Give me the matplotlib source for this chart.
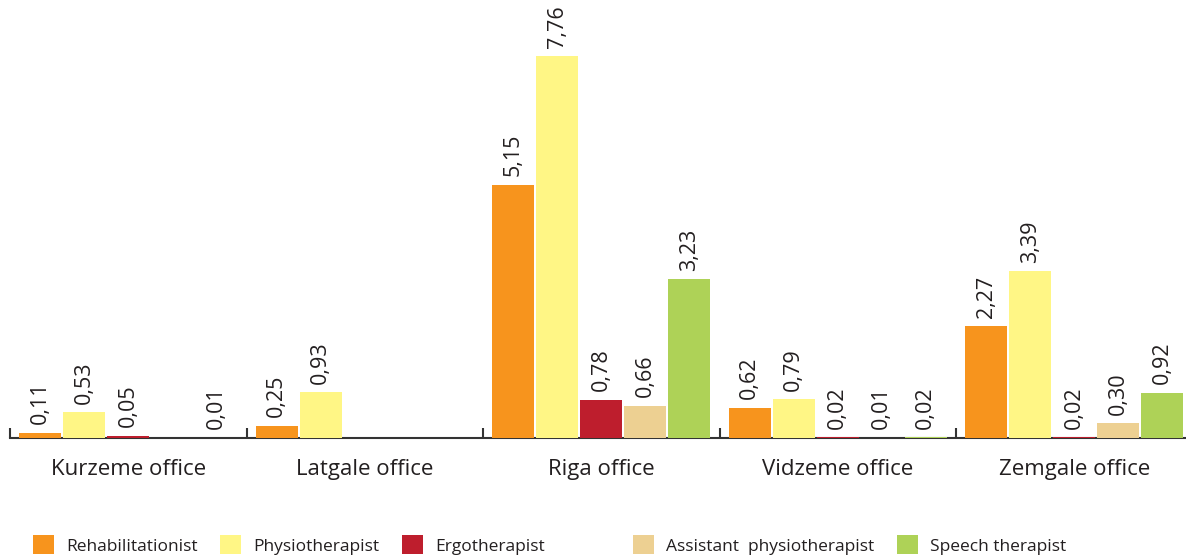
import numpy as np
import matplotlib.pyplot as plt

plt.rcParams['font.family'] = ['Open Sans', 'DejaVu Sans']

offices = ['Kurzeme office', 'Latgale office', 'Riga office', 'Vidzeme office', 'Zemgale office']
series = ['Rehabilitationist', 'Physiotherapist', 'Ergotherapist',
          'Assistant  physiotherapist', 'Speech therapist']
colors = ['#F7941D', '#FFF685', '#BE1E2D', '#EDD092', '#AED257']

# None = no bar in the source
rehab = [0.11, 0.25, 5.15, 0.62, 2.27]
physio = [0.53, 0.93, 7.76, 0.79, 3.39]
ergo = [0.05, None, 0.78, 0.02, 0.02]
assist = [None, None, 0.66, 0.01, 0.30]
speech = [0.01, None, 3.23, 0.02, 0.92]
labels = [
    ['0,11', '0,25', '5,15', '0,62', '2,27'],
    ['0,53', '0,93', '7,76', '0,79', '3,39'],
    ['0,05', None, '0,78', '0,02', '0,02'],
    [None, None, '0,66', '0,01', '0,30'],
    ['0,01', None, '3,23', '0,02', '0,92'],
]
data = [rehab, physio, ergo, assist, speech]

fig = plt.figure(figsize=(11.86, 5.6), dpi=100)
ax = fig.add_axes([10 / 1186, 122 / 560, 1176 / 1186, 438 / 560])

grp = 236.6
pad = 9 / grp
step = 44 / grp
width = 42 / grp
x0 = np.arange(len(offices))

handles = []
for k, (vals, col, lab) in enumerate(zip(data, colors, labels)):
    v = np.array([np.nan if a is None else a for a in vals])
    xs = x0 + pad + k * step
    h = ax.bar(xs, v, width=width, align='edge', color=col, label=series[k], zorder=2)
    handles.append(h)
    for xi, vi, li in zip(xs, v, lab):
        if li is None:
            continue
        ax.annotate(li, (xi + width / 2, vi), xytext=(0, 6), textcoords='offset points',
                    rotation=90, ha='center', va='bottom', fontsize=15.5, color='#231f20')

ax.set_xlim(0, 1176 / grp)
ax.set_ylim(0, 438 / 49.19)
for s in ['top', 'right', 'left']:
    ax.spines[s].set_visible(False)
ax.spines['bottom'].set_color('#333333')
ax.spines['bottom'].set_linewidth(1.5)
ax.spines['bottom'].set_zorder(1)
ax.set_yticks([])
ax.set_xticks(x0)
ax.set_xticklabels([])
ax.tick_params(axis='x', direction='in', length=7, width=1.5, color='#333333')
ax.set_xticks(x0 + 0.5, minor=True)
ax.set_xticklabels(offices, minor=True, fontsize=16, color='#231f20')
ax.tick_params(axis='x', which='minor', length=0, pad=15)

leg_kw = dict(loc='center left', ncol=3, frameon=False, fontsize=12.5, handlelength=1.2,
              handleheight=1.3, handletextpad=0.7, columnspacing=1.3, borderpad=0,
              borderaxespad=0, labelcolor='#231f20')
fig.legend(handles[:3], series[:3], bbox_to_anchor=(33 / 1186, 15 / 560), **leg_kw)
fig.legend(handles[3:], series[3:], bbox_to_anchor=(633 / 1186, 15 / 560), **leg_kw)

fig.savefig('out.png', dpi=100)
